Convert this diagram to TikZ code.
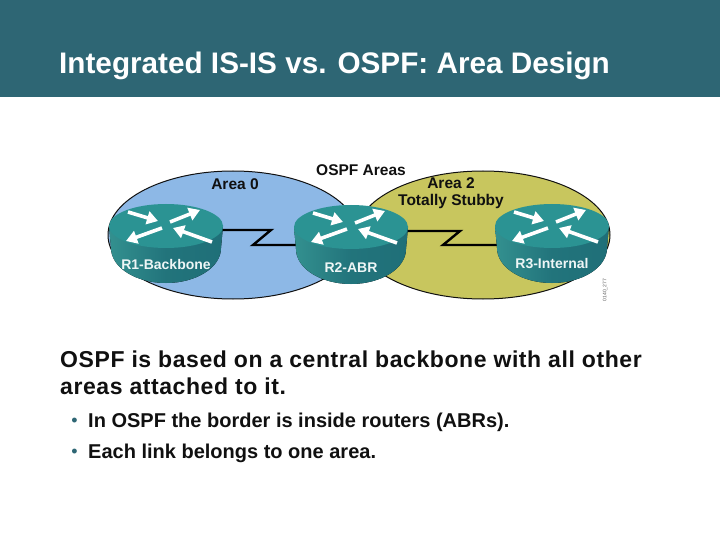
\documentclass[tikz,border=0pt]{standalone}
\usepackage{fontspec}
\setmainfont{Liberation Sans}
\newfontfamily\slidefont[LetterSpace=2.5]{Liberation Sans}
\usetikzlibrary{arrows.meta,calc,positioning,backgrounds,shapes.geometric}
\definecolor{band}{HTML}{2E6674}
\definecolor{ink}{HTML}{101010}
\definecolor{areablue}{HTML}{8DB8E6}
\definecolor{areaolive}{HTML}{C8C65E}
\definecolor{routertop}{HTML}{2B9393}
\definecolor{routerside}{HTML}{1F6F78}
\definecolor{routerlight}{HTML}{33908F}
\tikzset{
  area/.style={draw=ink,line width=1pt},
  arealabel/.style={text=ink,font=\fontsize{15.5}{16.5}\selectfont\bfseries,align=center,inner sep=0pt},
  routerlabel/.style={text=white!92!routertop,font=\fontsize{14}{15}\selectfont\bfseries,inner sep=0pt},
  serial/.style={draw=black,line width=2.4pt},
  flow/.style={white,line width=3.6pt,-{Triangle[length=11pt,width=13pt]}},
  bodytext/.style={text=ink,font=\fontsize{23}{27}\slidefont\bfseries,align=left,inner sep=0pt,anchor=north west},
  bullettext/.style={text=ink,font=\fontsize{20}{21}\selectfont\bfseries,inner sep=0pt,anchor=west},
  bulletdot/.style={text=band,font=\fontsize{18}{20}\selectfont,inner sep=0pt},
  router/.pic={
    \fill[left color=routerlight,right color=routerside,middle color=routerside!85!routerlight]
      (-57,0) -- (-55,22) arc[start angle=180,end angle=0,x radius=55,y radius=35] -- (57,0) -- cycle;
    \node[ellipse,fill=routertop,minimum width=114pt,minimum height=44pt,inner sep=0pt] (top) at (0,0) {};
    \draw[flow] (-38,-14) -- (-8,-5);
    \draw[flow] (4,-4) -- (34,-16);
    \draw[flow] (-4,2) -- (-40,15);
    \draw[flow] (46,16) -- (7,2);
  }
}
\begin{document}
\begin{tikzpicture}[x=1pt,y=-1pt,>=Latex]
\useasboundingbox (0,0) rectangle (720,540);
\fill[band] (0,0) rectangle (720,97);
\node[text=white,font=\fontsize{29.7}{31}\selectfont\bfseries,anchor=west,inner sep=0pt] (title) at (59,66) {Integrated IS-IS vs. OSPF: Area Design};
% routers
\pic (r1) at (166,226) {router};
\pic (r2) at (351,227) {router};
\pic (r3) at (552,226) {router};
\coordinate (zr1) at (271,230);
\coordinate (zl1) at (253,245);
\coordinate (zr2) at (460,231);
\coordinate (zl2) at (443,245);
% areas and links go under the routers
\begin{scope}[on background layer]
\node[area,ellipse,fill=areablue,minimum width=250pt,minimum height=128pt,inner sep=0pt] (area0) at (233,235) {};
\node[area,ellipse,fill=areaolive,minimum width=254pt,minimum height=128pt,inner sep=0pt] (area2) at (483,235) {};
\draw[serial] (r1top.center |- zr1) -- (zr1) -- (zl1) -- (r2top.center |- zl1);
\draw[serial] (r2top.center |- zr2) -- (zr2) -- (zl2) -- (r3top.center |- zl2);
\end{scope}
\node[routerlabel] (r1label) at (166,264) {R1-Backbone};
\node[routerlabel] (r2label) at (351,268) {R2-ABR};
\node[routerlabel] (r3label) at (552,264) {R3-Internal};
\node[arealabel] (ospf) at (361,170) {OSPF Areas};
\node[arealabel] (a0) at (235,184) {Area 0};
\node[arealabel] (a2) at (451,193) {Area 2\\Totally Stubby};
\node[font=\fontsize{5}{5}\selectfont,rotate=90,text=ink!70,inner sep=0pt] (code) at (605,290) {0140\_277};
\node[bodytext] (lead) at (60,351) {OSPF is based on a central backbone with all other\\areas attached to it.};
\node[bullettext] (b1) at (88,422) {In OSPF the border is inside routers (ABRs).};
\node[bullettext] (b2) at (88,453) {Each link belongs to one area.};
\node[bulletdot,left=10pt of b1.west] (d1) {•};
\node[bulletdot,left=10pt of b2.west] (d2) {•};
\end{tikzpicture}
\end{document}
